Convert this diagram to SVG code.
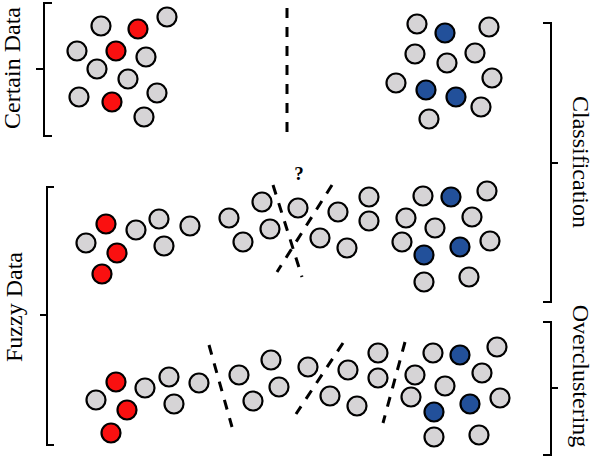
<svg xmlns="http://www.w3.org/2000/svg" width="596" height="460" viewBox="0 0 596 460">
<style>
.g{fill:#d6d4d6;stroke:#000;stroke-width:2.2}
.r{fill:#fa1010;stroke:#000;stroke-width:2.2}
.b{fill:#22509a;stroke:#000;stroke-width:2.2}
.br{fill:none;stroke:#000;stroke-width:2}
.d{fill:none;stroke:#000;stroke-width:3;stroke-dasharray:10 9}
.lbl{font-family:"Liberation Serif","Times New Roman",serif;font-size:24px;fill:#000}
</style>
<rect width="596" height="460" fill="#fff"/>
<g id="certain-data-bracket">
<path class="br" d="M52,3 H44 V136 H52 M44,69 H36"/>
<text class="lbl" transform="translate(20,68) rotate(-90)" text-anchor="middle">Certain Data</text>
</g>
<g id="fuzzy-data-bracket">
<path class="br" d="M54,187 H47 V445 H54 M47,315 H40"/>
<text class="lbl" transform="translate(22,307) rotate(-90)" text-anchor="middle">Fuzzy Data</text>
</g>
<g id="classification-bracket">
<path class="br" d="M543,23 H551 V302 H543 M551,163 H558"/>
<text class="lbl" transform="translate(573,162) rotate(90)" text-anchor="middle">Classification</text>
</g>
<g id="overclustering-bracket">
<path class="br" d="M543,322 H551 V455 H543 M551,388 H558"/>
<text class="lbl" transform="translate(573,376) rotate(90)" text-anchor="middle">Overclustering</text>
</g>
<g id="certain-left">
<circle class="g" cx="101" cy="26" r="9.5"/>
<circle class="r" cx="138" cy="29" r="9.5"/>
<circle class="g" cx="167" cy="17" r="9.5"/>
<circle class="g" cx="77" cy="51" r="9.5"/>
<circle class="r" cx="116" cy="51" r="9.5"/>
<circle class="g" cx="146" cy="57" r="9.5"/>
<circle class="g" cx="97" cy="69" r="9.5"/>
<circle class="g" cx="128" cy="79" r="9.5"/>
<circle class="g" cx="157" cy="93" r="9.5"/>
<circle class="g" cx="79" cy="97" r="9.5"/>
<circle class="r" cx="112" cy="102" r="9.5"/>
<circle class="g" cx="144" cy="117" r="9.5"/>
</g>
<g id="certain-right">
<circle class="g" cx="417" cy="24" r="9.5"/>
<circle class="b" cx="445" cy="33" r="9.5"/>
<circle class="g" cx="489" cy="27" r="9.5"/>
<circle class="g" cx="415" cy="54" r="9.5"/>
<circle class="g" cx="447" cy="63" r="9.5"/>
<circle class="g" cx="475" cy="53" r="9.5"/>
<circle class="g" cx="492" cy="78" r="9.5"/>
<circle class="g" cx="396" cy="83" r="9.5"/>
<circle class="b" cx="426" cy="90" r="9.5"/>
<circle class="b" cx="456" cy="97" r="9.5"/>
<circle class="g" cx="481" cy="107" r="9.5"/>
<circle class="g" cx="429" cy="119" r="9.5"/>
</g>
<g id="fuzzy-class-left">
<circle class="g" cx="86" cy="243" r="9.5"/>
<circle class="r" cx="106" cy="224" r="9.5"/>
<circle class="r" cx="117" cy="253" r="9.5"/>
<circle class="r" cx="102" cy="274" r="9.5"/>
<circle class="g" cx="136" cy="230" r="9.5"/>
<circle class="g" cx="159" cy="219" r="9.5"/>
<circle class="g" cx="164" cy="246" r="9.5"/>
<circle class="g" cx="190" cy="226" r="9.5"/>
</g>
<g id="fuzzy-class-middle">
<circle class="g" cx="229" cy="218" r="9.5"/>
<circle class="g" cx="262" cy="202" r="9.5"/>
<circle class="g" cx="243" cy="242" r="9.5"/>
<circle class="g" cx="270" cy="229" r="9.5"/>
<circle class="g" cx="298" cy="208" r="9.5"/>
<circle class="g" cx="320" cy="238" r="9.5"/>
<circle class="g" cx="338" cy="212" r="9.5"/>
<circle class="g" cx="347" cy="248" r="9.5"/>
<circle class="g" cx="369" cy="197" r="9.5"/>
<circle class="g" cx="369" cy="221" r="9.5"/>
<text x="299" y="180" text-anchor="middle" style="font-family:'Liberation Serif',serif;font-size:19px;font-weight:bold">?</text>
</g>
<g id="fuzzy-class-right">
<circle class="g" cx="423" cy="196" r="9.5"/>
<circle class="b" cx="451" cy="197" r="9.5"/>
<circle class="g" cx="487" cy="191" r="9.5"/>
<circle class="g" cx="406" cy="218" r="9.5"/>
<circle class="g" cx="435" cy="228" r="9.5"/>
<circle class="g" cx="472" cy="217" r="9.5"/>
<circle class="g" cx="402" cy="242" r="9.5"/>
<circle class="b" cx="460" cy="247" r="9.5"/>
<circle class="g" cx="490" cy="241" r="9.5"/>
<circle class="b" cx="424" cy="255" r="9.5"/>
<circle class="g" cx="424" cy="282" r="9.5"/>
<circle class="g" cx="469" cy="277" r="9.5"/>
</g>
<g id="over-left">
<circle class="g" cx="96" cy="400" r="9.5"/>
<circle class="r" cx="116" cy="382" r="9.5"/>
<circle class="r" cx="127" cy="410" r="9.5"/>
<circle class="r" cx="111" cy="433" r="9.5"/>
<circle class="g" cx="145" cy="388" r="9.5"/>
<circle class="g" cx="169" cy="377" r="9.5"/>
<circle class="g" cx="174" cy="404" r="9.5"/>
<circle class="g" cx="199" cy="383" r="9.5"/>
</g>
<g id="over-middle">
<circle class="g" cx="239" cy="375" r="9.5"/>
<circle class="g" cx="271" cy="360" r="9.5"/>
<circle class="g" cx="253" cy="401" r="9.5"/>
<circle class="g" cx="279" cy="387" r="9.5"/>
<circle class="g" cx="308" cy="367" r="9.5"/>
<circle class="g" cx="330" cy="396" r="9.5"/>
<circle class="g" cx="348" cy="370" r="9.5"/>
<circle class="g" cx="357" cy="406" r="9.5"/>
<circle class="g" cx="378" cy="353" r="9.5"/>
<circle class="g" cx="378" cy="378" r="9.5"/>
</g>
<g id="over-right">
<circle class="g" cx="433" cy="353" r="9.5"/>
<circle class="b" cx="460" cy="355" r="9.5"/>
<circle class="g" cx="497" cy="347" r="9.5"/>
<circle class="g" cx="415" cy="375" r="9.5"/>
<circle class="g" cx="445" cy="386" r="9.5"/>
<circle class="g" cx="482" cy="373" r="9.5"/>
<circle class="g" cx="411" cy="397" r="9.5"/>
<circle class="b" cx="470" cy="404" r="9.5"/>
<circle class="g" cx="500" cy="398" r="9.5"/>
<circle class="b" cx="434" cy="412" r="9.5"/>
<circle class="g" cx="434" cy="437" r="9.5"/>
<circle class="g" cx="479" cy="435" r="9.5"/>
</g>
<g id="connectors">
<line class="d" x1="287" y1="8" x2="287" y2="132"/>
<line class="d" x1="273" y1="185" x2="302" y2="277"/>
<line class="d" x1="332" y1="185" x2="277" y2="272"/>
<line class="d" x1="209" y1="345" x2="232" y2="427"/>
<line class="d" x1="343" y1="343" x2="296" y2="414"/>
<line class="d" x1="405" y1="342" x2="383" y2="423"/>
</g>
</svg>
